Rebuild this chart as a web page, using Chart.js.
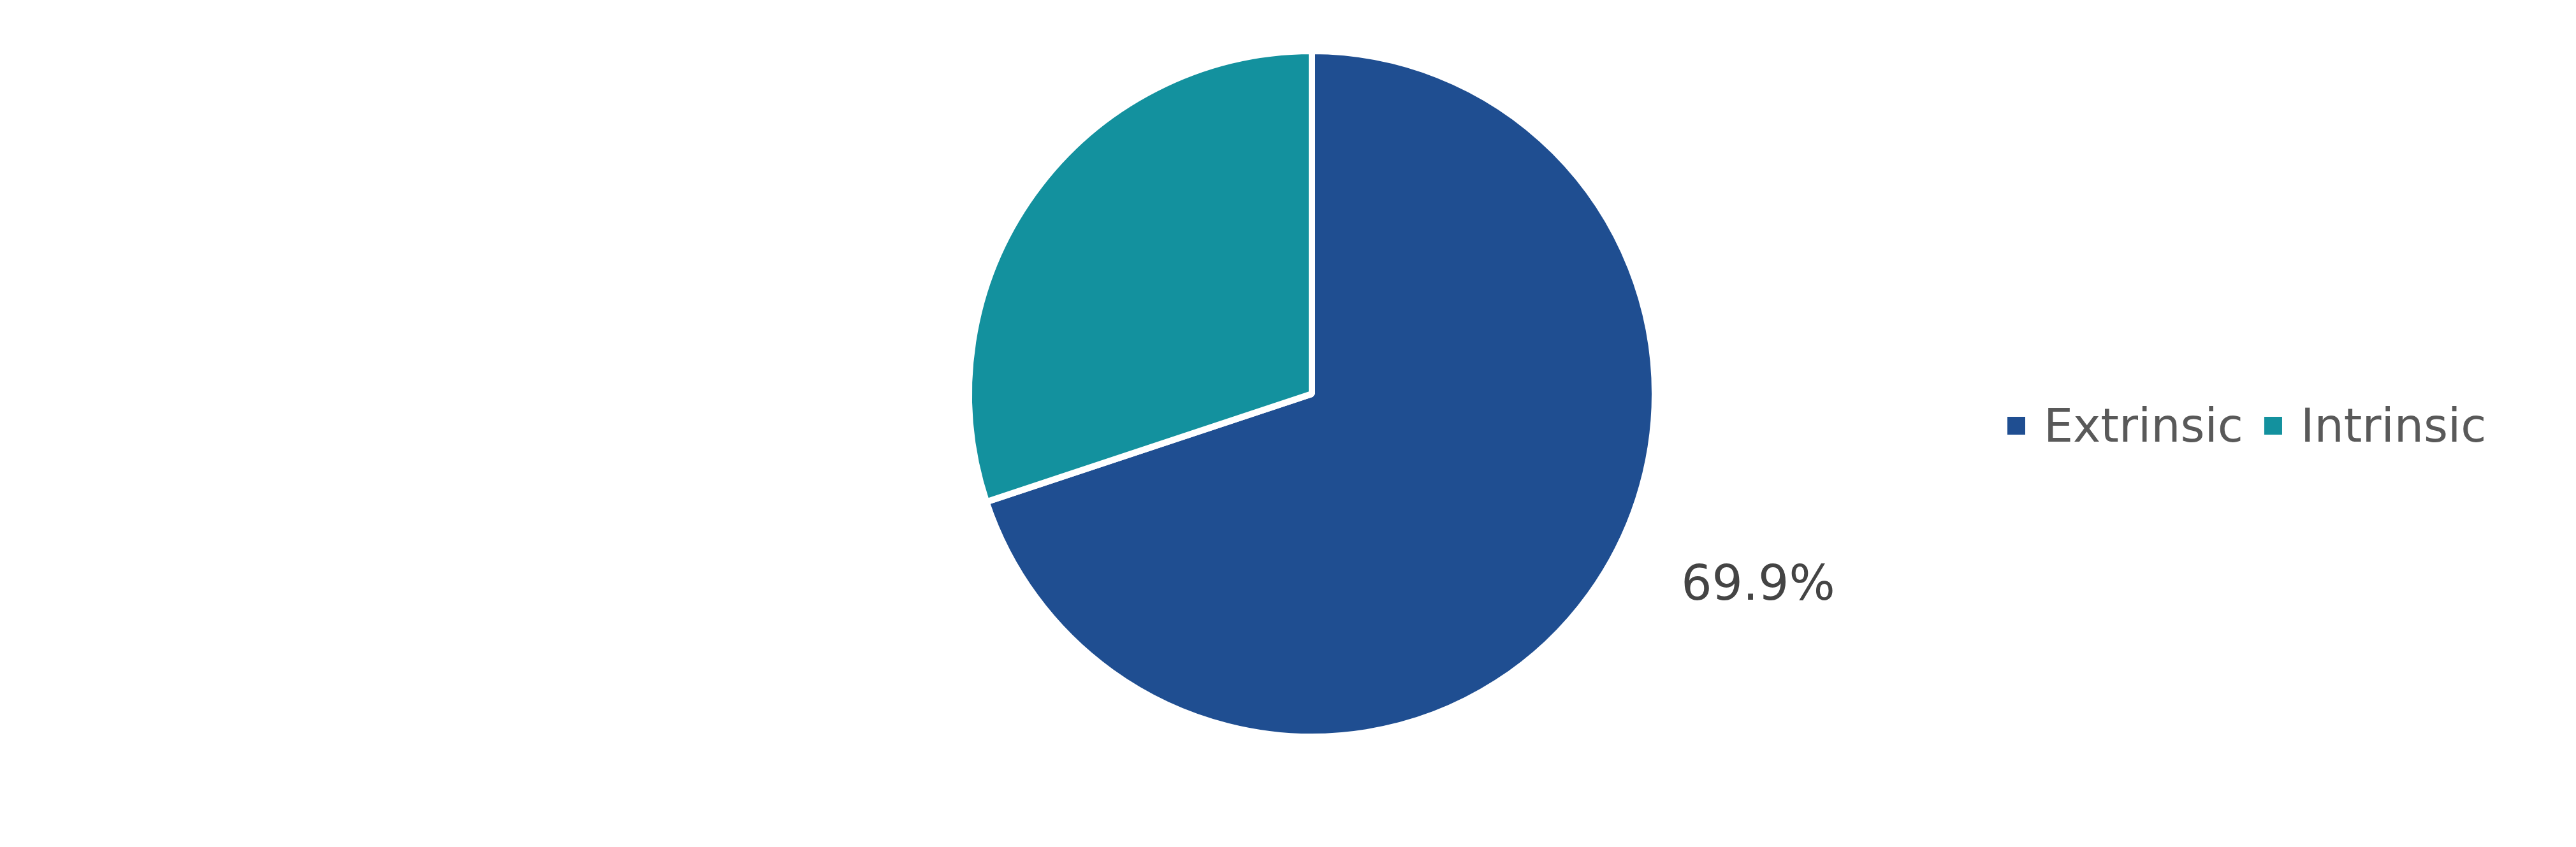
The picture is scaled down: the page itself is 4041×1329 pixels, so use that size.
<!DOCTYPE html>
<html>
<head>
<meta charset="utf-8">
<script src="https://cdn.jsdelivr.net/npm/chart.js@4/dist/chart.umd.min.js"></script>
<style>
  html, body { margin: 0; padding: 0; background: #ffffff; }
  #chart { display: block; }
</style>
</head>
<body>
<canvas id="chart" width="4041" height="1329"></canvas>
<script>
// datos del grafico
const categories = ["Extrinsic", "Intrinsic"];
const shares = [69.9, 30.1];
const sliceColors = ["#1f4e91", "#13919e"];
const showPercent = [true, false];

// etiqueta de porcentaje fuera de la rebanada
const percentLabels = {
  id: "percentLabels",
  afterDatasetsDraw(chart) {
    const ctx = chart.ctx;
    const meta = chart.getDatasetMeta(0);
    const total = shares.reduce((a, b) => a + b, 0);
    ctx.save();
    ctx.font = "76px 'DejaVu Sans'";
    ctx.fillStyle = "#444444";
    ctx.textAlign = "left";
    ctx.textBaseline = "alphabetic";
    meta.data.forEach((arc, i) => {
      if (!showPercent[i]) return;
      const p = arc.getProps(["x", "y", "startAngle", "endAngle", "outerRadius"], true);
      const mid = (p.startAngle + p.endAngle) / 2;
      const ax = p.x + Math.cos(mid) * p.outerRadius;
      const ay = p.y + Math.sin(mid) * p.outerRadius;
      const txt = ((shares[i] / total) * 100).toFixed(1) + "%";
      ctx.fillText(txt, ax + 143, ay + 8);
    });
    ctx.restore();
  },
};

// leyenda horizontal a la derecha
const sideLegend = {
  id: "sideLegend",
  afterDraw(chart) {
    const ctx = chart.ctx;
    ctx.save();
    ctx.font = "73px 'DejaVu Sans'";
    ctx.textBaseline = "alphabetic";
    let x = 3149;
    categories.forEach((name, i) => {
      ctx.fillStyle = sliceColors[i];
      ctx.fillRect(x, 654, 28, 28);
      ctx.fillStyle = "#595959";
      ctx.fillText(name, x + 57, 693);
      x += 57 + ctx.measureText(name).width + 33;
    });
    ctx.restore();
  },
};

const chart = new Chart(document.getElementById("chart"), {
  type: "pie",
  data: {
    labels: categories,
    datasets: [
      {
        data: shares,
        backgroundColor: sliceColors,
        borderColor: "#ffffff",
        borderWidth: 10,
      },
    ],
  },
  options: {
    responsive: false,
    animation: false,
    devicePixelRatio: 1,
    layout: {
      padding: { top: 75, bottom: 168, left: 1458, right: 1383 },
    },
    plugins: {
      legend: { display: false },
      tooltip: { enabled: false },
    },
  },
  plugins: [percentLabels, sideLegend],
});
</script>
</body>
</html>
